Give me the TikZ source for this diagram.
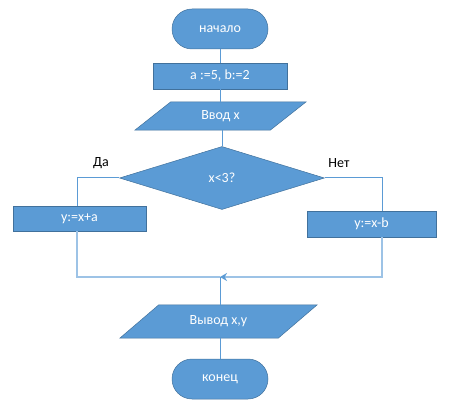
\documentclass[tikz,border=0pt]{standalone}
\usepackage{fontspec}
\setmainfont{Carlito}
\usetikzlibrary{shapes.geometric, arrows.meta, backgrounds}
\definecolor{blockblue}{HTML}{5B9BD5}
\definecolor{blockedge}{HTML}{41719C}
\definecolor{lightline}{HTML}{9DC3E6}

\begin{document}
\begin{tikzpicture}[x=1pt, y=-1pt, font=\fontsize{14}{16}\selectfont,
  block/.style={fill=blockblue, draw=blockedge, line width=0.5pt, text=white, inner sep=0pt},
  startstop/.style={block, rectangle, rounded corners=20pt, minimum width=96pt, minimum height=40pt},
  process/.style={block, rectangle, minimum height=26pt},
  iobox/.style={rectangle, text=white, inner sep=0pt},
  decision/.style={block, diamond, minimum width=205pt, minimum height=63pt},
  flow/.style={draw=blockblue, line width=1pt},
  back/.style={draw=lightline, line width=1.6pt}]
  \useasboundingbox (0, 0) rectangle (452, 411);

  \node[startstop] (start) at (220, 29) {начало};
  \node[process, minimum width=134pt] (init) at (220, 76) {a :=5, b:=2};
  \node[iobox, minimum width=135pt, minimum height=28pt] (input) at (220.5, 116) {Ввод x};
  \node[decision] (cond) at (222, 178) {x<3?};
  \node (yes) at (101, 163) {Да};
  \node (no) at (339, 163) {Нет};
  \node[process, minimum width=133pt, minimum height=25pt] (left) at (79.5, 218.5) {y:=x+a};
  \node[process, minimum width=129pt] (right) at (371.5, 224) {y:=x-b};
  \coordinate (leftline) at (77, 0);
  \coordinate (rightline) at (382, 0);
  \coordinate (join) at (220, 277);
  \node[iobox, minimum width=158pt, minimum height=33pt] (output) at (218.5, 321.5) {Вывод x,y};
  \node[startstop] (stop) at (220, 379) {конец};

  % parallelograms behind their texts
  \begin{scope}[on background layer]
    \filldraw[block] ([xshift=-18pt]input.south west) -- ([xshift=-18pt]input.south east)
      -- ([xshift=18pt]input.north east) -- ([xshift=18pt]input.north west) -- cycle;
    \filldraw[block] ([xshift=-19.5pt]output.south west) -- ([xshift=-19.5pt]output.south east)
      -- ([xshift=19.5pt]output.north east) -- ([xshift=19.5pt]output.north west) -- cycle;
  \end{scope}

  % main column
  \draw[flow] (start) -- (init);
  \draw[flow] (init.south) -- (init.south |- input.north);
  \draw[flow] (input.south -| cond.north) -- (cond.north);

  % branches
  \draw[flow] (cond.west) -| (leftline |- left.north);
  \draw[flow] (cond.east) -| (rightline |- right.north);
  \draw[back] (leftline |- left.south) |- (join);
  \draw[back, -{Stealth[length=7pt, width=8pt, color=blockblue]}] (rightline |- right.south) |- (join);

  \draw[flow] (join) -- (output.north -| join);
  \draw[flow] (output.south -| stop.north) -- (stop.north);
\end{tikzpicture}
\end{document}
